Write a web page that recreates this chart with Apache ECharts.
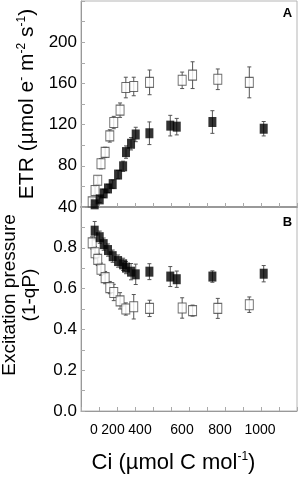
<!DOCTYPE html>
<html><head><meta charset="utf-8">
<script src="https://cdn.jsdelivr.net/npm/echarts@6/dist/echarts.min.js"></script>
<style>html,body{margin:0;padding:0;background:#fff}#c{width:298px;height:480px}</style>
</head><body><div id="c"></div>
<script>
// ---- data ----
const ciOpen   = [62, 78, 93, 111, 134, 160, 182, 217, 249, 293, 381, 562, 620, 760, 935];
const ciClosed = [76, 104, 126, 150, 176, 206, 234, 250, 278, 304, 380, 496, 532, 730, 1015];

const etrOpen      = [45, 56, 66, 82, 93, 109, 122, 134, 156, 157, 161, 163, 168, 164, 161];
const etrOpenErr   = [3, 4, 4, 5, 5, 6, 6, 7, 10, 9, 12, 8, 13, 10, 15];
const etrClosed    = [42.6, 47.4, 53.2, 58, 62.2, 71.5, 79.5, 93.3, 101.4, 110.4, 111.6, 119, 118, 122.5, 116];
const etrClosedErr = [3, 3, 4, 4, 4, 4, 5, 6, 6, 7, 11, 10, 8, 11, 7];

const epOpen      = [0.824, 0.776, 0.743, 0.695, 0.654, 0.605, 0.581, 0.540, 0.500, 0.511, 0.503, 0.505, 0.492, 0.503, 0.521];
const epOpenErr   = [0.03, 0.03, 0.03, 0.03, 0.03, 0.03, 0.04, 0.04, 0.03, 0.06, 0.04, 0.05, 0.027, 0.049, 0.038];
const epClosed    = [0.884, 0.852, 0.818, 0.789, 0.759, 0.735, 0.719, 0.703, 0.683, 0.670, 0.683, 0.659, 0.646, 0.659, 0.673];
const epClosedErr = [0.045, 0.03, 0.03, 0.03, 0.03, 0.03, 0.03, 0.03, 0.04, 0.05, 0.039, 0.049, 0.04, 0.028, 0.04];

const xTickLabels  = [0, 200, 400, 600, 800, 1000];
const yTickLabelsA = [40, 80, 120, 160, 200];
const yTickLabelsB = [0.0, 0.2, 0.4, 0.6, 0.8];

// ---- styling ----
const FONT = "'Liberation Sans', Arial, sans-serif";
const AXIS_COLOR = '#999';
const TICK_COLOR = '#aaa';
// horizontal nudges (px) of x tick labels relative to their ticks, as in the original artwork
const xLabelShift = {0: 13, 200: -4, 400: -13, 600: -7, 800: -5, 1000: -1};

function errSeries(xi, ci, vals, errs) {
  return {
    type: 'custom', xAxisIndex: xi, yAxisIndex: xi, silent: true, z: 1,
    data: ci.map((c, i) => [c, vals[i] - errs[i], vals[i] + errs[i]]),
    encode: {x: 0, y: [1, 2]},
    renderItem: function (params, api) {
      const lo = api.coord([api.value(0), api.value(1)]);
      const hi = api.coord([api.value(0), api.value(2)]);
      const w = 2;
      const st = {stroke: '#555', lineWidth: 1, fill: null};
      return {type: 'group', children: [
        {type: 'line', shape: {x1: lo[0], y1: lo[1], x2: hi[0], y2: hi[1]}, style: st},
        {type: 'line', shape: {x1: lo[0] - w, y1: lo[1], x2: lo[0] + w, y2: lo[1]}, style: st},
        {type: 'line', shape: {x1: hi[0] - w, y1: hi[1], x2: hi[0] + w, y2: hi[1]}, style: st}
      ]};
    }
  };
}
function pts(ci, vals) { return ci.map((c, i) => [c, vals[i]]); }
const openStyle = {color: '#fff', borderColor: '#444', borderWidth: 1};
const closedStyle = {color: '#000'};

const richM = {fontSize: 21, lineHeight: 24, fontFamily: FONT, color: '#000'};
const richS = {fontSize: 12, lineHeight: 14, verticalAlign: 'top', fontFamily: FONT, color: '#000'};
const richMx = {fontSize: 22, lineHeight: 24, fontFamily: FONT, color: '#000'};

function xAxisBase(grid) {
  return {
    type: 'value', gridIndex: grid, min: 0, max: 1200, interval: 100,
    axisLine: {show: true, lineStyle: {color: AXIS_COLOR, width: 1}},
    axisTick: {show: true, inside: true, length: 4, lineStyle: {color: TICK_COLOR}},
    axisLabel: {show: false},
    splitLine: {show: false}
  };
}

const option = {
  animation: false,
  backgroundColor: '#fff',
  grid: [
    {left: 81, top: 1, width: 216, height: 206, show: true, borderColor: '#b5b5b5', borderWidth: 1,
     containLabel: false, outerBoundsMode: 'none'},
    {left: 81, top: 207, width: 216, height: 204, show: true, borderColor: '#b5b5b5', borderWidth: 1,
     containLabel: false, outerBoundsMode: 'none'}
  ],
  xAxis: [
    Object.assign(xAxisBase(0), {axisLine: {show: true, lineStyle: {color: AXIS_COLOR, width: 2}}}),
    Object.assign(xAxisBase(1), {
      name: '{m|Ci (µmol C mol}{s|-1}{m|)}',
      nameLocation: 'middle', nameGap: 40,
      nameTextStyle: {rich: {m: richMx, s: richS}, padding: [0, 31, 0, 0]}
    })
  ],
  yAxis: [
    {
      type: 'value', gridIndex: 0, min: 40, max: 240, interval: 20,
      axisLine: {show: true, lineStyle: {color: AXIS_COLOR}},
      axisTick: {show: true, inside: true, length: 4, lineStyle: {color: TICK_COLOR}},
      splitLine: {show: false},
      axisLabel: {margin: 4, fontSize: 17, fontFamily: FONT, color: '#000',
        formatter: v => yTickLabelsA.indexOf(v) >= 0 ? String(v) : ''},
      name: '{m|ETR (µmol e}{s|-}{m| m}{s|-2}{m| s}{s|-1}{m|)}',
      nameLocation: 'middle', nameRotate: 90, nameGap: 28,
      nameTextStyle: {rich: {m: richM, s: richS}}
    },
    {
      type: 'value', gridIndex: 1, min: 0, max: 1, interval: 0.1,
      axisLine: {show: true, lineStyle: {color: AXIS_COLOR}},
      axisTick: {show: true, inside: true, length: 4, lineStyle: {color: TICK_COLOR}},
      splitLine: {show: false},
      axisLabel: {margin: 4, fontSize: 17, fontFamily: FONT, color: '#000',
        formatter: v => yTickLabelsB.some(t => Math.abs(t - v) < 1e-6) ? v.toFixed(1) : ''},
      name: 'Excitation pressure\n(1-qP)',
      nameLocation: 'middle', nameRotate: 90, nameGap: 41,
      nameTextStyle: {fontSize: 19, lineHeight: 20, fontFamily: FONT, color: '#000', padding: [0, 0, 0, 28]}
    }
  ],
  graphic: [
    {id: 'pA', type: 'text', x: 287.5, y: 13, style: {text: 'A', font: "bold 13px " + FONT, fill: '#000', align: 'center', verticalAlign: 'middle'}},
    {id: 'pB', type: 'text', x: 287.5, y: 222, style: {text: 'B', font: "bold 13px " + FONT, fill: '#000', align: 'center', verticalAlign: 'middle'}}
  ],
  series: [
    errSeries(0, ciOpen, etrOpen, etrOpenErr),
    {type: 'scatter', xAxisIndex: 0, yAxisIndex: 0, symbol: 'rect', symbolSize: [8, 10], itemStyle: openStyle, data: pts(ciOpen, etrOpen), z: 2},
    errSeries(0, ciClosed, etrClosed, etrClosedErr),
    {type: 'scatter', xAxisIndex: 0, yAxisIndex: 0, symbol: 'rect', symbolSize: [8, 10], itemStyle: closedStyle, data: pts(ciClosed, etrClosed), z: 3},
    errSeries(1, ciOpen, epOpen, epOpenErr),
    {type: 'scatter', xAxisIndex: 1, yAxisIndex: 1, symbol: 'rect', symbolSize: [8, 10], itemStyle: openStyle, data: pts(ciOpen, epOpen), z: 2},
    errSeries(1, ciClosed, epClosed, epClosedErr),
    {type: 'scatter', xAxisIndex: 1, yAxisIndex: 1, symbol: 'rect', symbolSize: [8, 10], itemStyle: closedStyle, data: pts(ciClosed, epClosed), z: 3}
  ]
};
const chart = echarts.init(document.getElementById('c'), null, {renderer: 'canvas'});
chart.setOption(option);

// x tick labels of panel B, positioned from the axis scale
const axisBottom = chart.convertToPixel({yAxisIndex: 1}, 0);
chart.setOption({
  graphic: xTickLabels.map((v, i) => ({
    id: 'xl' + i, type: 'text',
    x: chart.convertToPixel({xAxisIndex: 1}, v) + xLabelShift[v],
    y: axisBottom + 12,
    style: {text: String(v), font: '14px ' + FONT, fill: '#000', align: 'center', verticalAlign: 'top'}
  }))
});
</script>
</body></html>
